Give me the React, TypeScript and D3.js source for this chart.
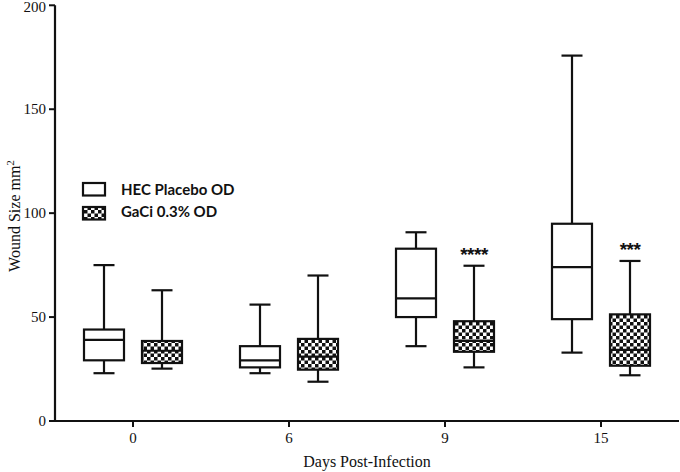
import React from "react";
import * as d3 from "d3";

const days = ["0", "6", "9", "15"];
const seriesNames = ["HEC Placebo OD", "GaCi 0.3% OD"];
// [min, q1, median, q3, max]
const hecStats = [
  [23, 29.2, 39, 44, 75],
  [23, 25.8, 29.2, 36, 56],
  [36, 50, 59, 82.9, 90.8],
  [32.9, 49, 74, 94.9, 175.8],
];
const gaciStats = [
  [25.2, 27.9, 33.8, 38.5, 62.9],
  [18.9, 24.7, 31, 39.5, 70],
  [25.8, 33.3, 38.5, 48, 74.7],
  [22, 26.6, 34.2, 51.3, 77],
];
const significance = ["", "", "****", "***"];
const yTicks = [0, 50, 100, 150, 200];

const W = 680;
const H = 472;
const left = 55;
const right = 679;
const top = 5.3;
const bottom = 421;

export default function App() {
  const x = d3.scaleBand<string>().domain(days).range([left, right]);
  const y = d3.scaleLinear().domain([0, 200]).range([bottom, top]);
  const bw = x.bandwidth();
  const boxW = 40;
  const offset = 29;
  const capW = 21;

  const renderBox = (s: number[], cx: number, fill: string, key: string) => {
    const [mn, q1, med, q3, mx] = s;
    return (
      <g key={key} stroke="#111" strokeWidth={2.2} fill="none">
        <line x1={cx} x2={cx} y1={y(mx)} y2={y(q3)} />
        <line x1={cx} x2={cx} y1={y(q1)} y2={y(mn)} />
        <line x1={cx - capW / 2} x2={cx + capW / 2} y1={y(mx)} y2={y(mx)} />
        <line x1={cx - capW / 2} x2={cx + capW / 2} y1={y(mn)} y2={y(mn)} />
        <rect x={cx - boxW / 2} y={y(q3)} width={boxW} height={y(q1) - y(q3)} fill={fill} />
        <line x1={cx - boxW / 2} x2={cx + boxW / 2} y1={y(med)} y2={y(med)} />
      </g>
    );
  };

  return (
    <svg width={W} height={H} style={{ display: "block", position: "absolute", left: 0, top: 0 }}>
      <defs>
        <pattern id="checker" width={7} height={7} patternUnits="userSpaceOnUse">
          <rect width={7} height={7} fill="#fff" />
          <rect width={3.5} height={3.5} fill="#111" />
          <rect x={3.5} y={3.5} width={3.5} height={3.5} fill="#111" />
        </pattern>
      </defs>
      <rect width={W} height={H} fill="#fff" />
      {/* y axis */}
      <line x1={left} x2={left} y1={top} y2={bottom} stroke="#111" strokeWidth={2.2} />
      {yTicks.map((t) => (
        <g key={t}>
          <line x1={left - 6} x2={left} y1={y(t)} y2={y(t)} stroke="#111" strokeWidth={2} />
          <text
            x={left - 9}
            y={Math.max(y(t), 6.5)}
            dy="0.35em"
            textAnchor="end"
            fontFamily="Liberation Serif"
            fontSize={15}
            fill="#111"
          >
            {t}
          </text>
        </g>
      ))}
      {/* x axis */}
      <line x1={left - 1} x2={right} y1={bottom} y2={bottom} stroke="#111" strokeWidth={2.2} />
      {days.map((d) => {
        const cx = (x(d) as number) + bw / 2;
        return (
          <g key={d}>
            <line x1={cx} x2={cx} y1={bottom} y2={bottom + 6} stroke="#111" strokeWidth={2} />
            <text x={cx} y={443} textAnchor="middle" fontFamily="Liberation Serif" fontSize={15} fill="#111">
              {d}
            </text>
          </g>
        );
      })}
      <text
        x={(left + right) / 2}
        y={467}
        textAnchor="middle"
        fontFamily="Liberation Serif"
        fontSize={16}
        fill="#111"
      >
        Days Post-Infection
      </text>
      <text
        transform={`translate(20,216) rotate(-90)`}
        textAnchor="middle"
        fontFamily="Liberation Serif"
        fontSize={16}
        fill="#111"
      >
        Wound Size mm<tspan dy={-6} fontSize={11}>2</tspan>
      </text>
      {/* boxes */}
      {days.map((d, i) => {
        const cx = (x(d) as number) + bw / 2;
        return (
          <g key={d}>
            {renderBox(hecStats[i], cx - offset, "#fff", "h" + d)}
            {renderBox(gaciStats[i], cx + offset, "url(#checker)", "g" + d)}
            {significance[i] && (
              <text
                x={cx + offset}
                y={y(gaciStats[i][4]) - 5}
                textAnchor="middle"
                fontFamily="Liberation Sans"
                fontWeight="bold"
                fontSize={19}
                letterSpacing={-0.5}
                fill="#111"
              >
                {significance[i]}
              </text>
            )}
          </g>
        );
      })}
      {/* legend */}
      {seriesNames.map((name, i) => (
        <g key={name}>
          <rect
            x={83}
            y={183 + i * 24}
            width={22}
            height={12.5}
            fill={i === 0 ? "#fff" : "url(#checker)"}
            stroke="#111"
            strokeWidth={2.2}
          />
          <text x={121} y={195 + i * 22} fontFamily="Lato" fontWeight="bold" fontSize={15} fill="#111">
            {name}
          </text>
        </g>
      ))}
    </svg>
  );
}
